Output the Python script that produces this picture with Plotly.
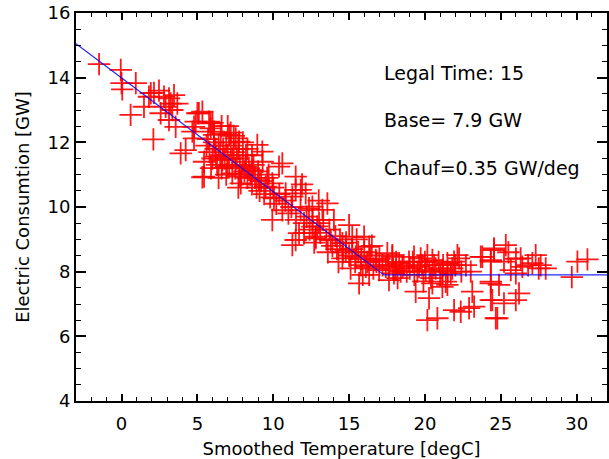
import plotly.graph_objects as go

# Observations: smoothed temperature (degC) and electric consumption (GW)
temp = [
    -1.48, -0.05, 0.0, 0.05, 0.94, 0.6, 2.1, 1.93, 1.81, 2.14, 2.47, 2.8, 3.13, 3.46, 3.24, 2.91, 1.48, 2.58,
    3.13, 3.57, 3.35, 3.68, 3.9, 4.23, 5.44, 4.89, 5.1, 4.67, 4.78, 5.77, 5.88, 6.1,
    5.0, 5.33, 4.78, 5.88, 6.1, 6.54, 7.09, 7.53, 7.75, 8.95, 9.28, 5.44, 5.33, 6.21, 6.65, 6.97, 7.3, 7.75,
    7.86, 8.19, 8.62, 9.06, 9.5, 9.94, 10.38, 10.6, 10.05, 9.94, 10.82, 11.26, 11.48, 11.81, 12.36, 12.03,
    11.7, 11.26, 12.58, 12.8,
    11.48, 12.14, 12.58, 13.24, 13.57, 13.02, 12.03, 11.48, 12.8, 13.79, 15.0, 14.56, 14.78, 15.21, 15.99,
    16.32, 14.56, 15.44, 15.77, 16.1, 16.76, 17.52, 17.85, 16.98, 16.32, 15.66, 17.42, 18.08, 18.51, 17.63,
    17.85, 18.3, 17.96, 18.95, 19.28, 19.72, 20.16, 20.49, 19.61, 20.05, 20.71, 21.15, 21.48, 21.92, 22.25,
    22.14, 21.7, 21.37, 20.49, 19.39, 20.27, 21.15, 21.48, 23.12, 23.02, 23.68, 24.34, 24.55, 24.34, 24.44,
    22.36, 21.92, 22.91, 23.24, 20.16, 20.82, 24.67,
    25.33, 24.56, 23.78, 24.34, 25.21, 26.31, 27.3, 27.08, 27.63, 27.96, 26.42, 25.66, 25.99, 30.05, 30.71,
    29.68, 24.34, 24.88, 26.2, 25.99, 24.34, 25.21, 24.77,
    5.6, 5.8, 6.0, 6.2, 6.3, 6.4, 6.5, 6.6, 6.7, 6.8, 6.9, 7.0, 7.1, 7.2, 7.3, 7.4, 7.5, 7.6, 7.7, 7.8,
    7.9, 8.0, 8.1, 8.2, 8.3, 8.4, 8.5, 8.6, 8.7, 8.8, 8.9, 9.0, 9.1, 9.2, 9.4, 9.6, 9.8, 10.0, 10.2, 10.4,
    10.6, 10.8, 11.0, 11.2, 5.7, 6.1, 6.9, 7.7, 5.9, 6.4, 7.2, 8.3, 9.3, 9.7, 6.0, 6.6, 7.0, 7.4, 8.0, 8.6,
    11.5, 11.8, 12.2, 12.4, 12.6, 12.9, 13.1, 13.3, 13.5, 13.7, 13.9, 14.1, 14.2, 14.4, 14.6, 14.8, 15.0,
    15.2, 15.4, 15.6, 15.8, 16.0, 16.2, 16.4, 16.6, 16.8, 17.0, 17.2, 14.3, 13.6, 12.7, 15.1, 15.9, 14.0,
    13.0, 11.9, 16.5, 15.5,
    17.6, 17.9, 18.1, 18.4, 18.6, 18.8, 19.0, 19.2, 19.5, 19.8, 20.0, 20.3, 20.6, 20.9, 21.2, 21.5, 21.8,
    22.0, 22.4, 22.7, 19.3, 20.4, 18.2, 19.9, 21.0, 26.8, 27.5, 26.0, 25.5,
]
consumption = [
    14.42, 14.24, 13.83, 13.64, 13.83, 12.85, 12.09, 13.52, 13.41, 13.53, 13.6, 13.41, 13.36, 13.46, 13.2, 13.1, 13.1, 12.9,
    12.69, 12.48, 13.0, 13.2, 11.66, 11.76, 10.94, 12.64, 12.9, 12.33, 12.12, 12.64, 12.43, 12.23,
    12.9, 12.95, 12.48, 12.59, 12.33, 12.28, 12.23, 12.12, 12.02, 11.92, 11.71, 11.4, 10.92, 11.56, 11.45, 11.25, 11.04, 10.94,
    10.73, 11.25, 11.14, 10.83, 10.63, 10.73, 11.25, 11.35, 10.27, 9.6, 10.42, 10.32, 10.94, 10.53, 9.96, 9.5,
    9.19, 8.82, 9.39, 9.08,
    10.53, 10.42, 10.01, 9.91, 10.11, 9.5, 9.19, 8.98, 9.03, 8.98, 9.44, 8.88, 8.67, 9.08, 9.08,
    8.77, 8.41, 8.46, 8.2, 8.15, 8.36, 8.57, 8.46, 8.05, 7.9, 7.64, 8.15, 8.05, 8.15, 7.74,
    8.51, 8.26, 7.95, 8.31, 8.46, 8.41, 8.51, 8.36, 8.15, 8.05, 8.1, 8.05, 8.26, 8.31, 8.41,
    8.51, 7.95, 7.69, 7.64, 7.38, 7.18, 7.53, 7.59, 7.38, 8.0, 8.46, 8.31, 8.67, 7.69, 7.12,
    6.76, 6.81, 6.87, 6.92, 6.5, 6.56, 6.56,
    8.82, 8.72, 8.46, 8.36, 8.31, 8.41, 8.51, 8.26, 8.2, 8.1, 8.15, 8.05, 7.95, 8.31, 8.38,
    7.83, 7.64, 7.59, 7.33, 7.12, 7.12, 7.02, 6.56,
    11.9, 11.7, 11.5, 11.8, 11.3, 11.9, 11.6, 11.2, 11.8, 11.5, 12.0, 11.6, 11.3, 11.9, 11.5, 11.7, 11.2, 11.5, 11.8, 11.3,
    11.0, 11.4, 11.1, 11.6, 10.9, 11.2, 11.0, 10.7, 11.3, 10.9, 10.6, 11.1, 10.5, 10.8, 10.4, 10.9, 10.3, 10.6, 10.1, 10.4,
    9.9, 10.2, 9.8, 10.0, 12.1, 12.0, 11.0, 10.6, 11.2, 10.9, 12.3, 11.8, 11.4, 11.0, 12.6, 12.5, 12.5, 12.2, 12.0, 11.6,
    9.6, 9.9, 9.7, 9.3, 9.6, 9.4, 9.2, 9.6, 9.0, 9.3, 8.8, 9.1, 8.7, 9.0, 8.6, 8.9, 8.5,
    8.7, 8.3, 8.6, 8.4, 8.6, 8.3, 8.5, 8.1, 8.3, 8.4, 8.2, 8.3, 8.6, 8.9, 8.1, 7.9, 9.6,
    10.2, 10.7, 8.8, 9.0,
    8.2, 8.1, 8.3, 8.0, 8.2, 8.0, 8.1, 8.3, 8.0, 8.2, 8.3, 8.0, 8.2, 8.3, 8.2, 8.0, 8.1,
    8.2, 8.0, 8.2, 7.9, 7.8, 7.8, 7.7, 7.9, 8.2, 8.1, 8.4, 8.6,
]

# Fitted piecewise model: heating slope then constant base
fit_temp = [-3.0, 17.3, 32.0]
fit_cons = [15.05, 7.9, 7.9]

x_ticks = [0, 5, 10, 15, 20, 25, 30]
y_ticks = [4, 6, 8, 10, 12, 14, 16]

annot_texts = ["Legal Time: 15", "Base= 7.9 GW", "Chauf=0.35 GW/deg"]

FONT = "DejaVu Sans"

fig = go.Figure()
fig.add_trace(go.Scatter(
    x=temp, y=consumption, mode="markers",
    marker=dict(symbol="cross-thin", size=16, color="red",
                line=dict(width=1.8, color="rgba(255,0,0,0.9)")),
    showlegend=False, hoverinfo="skip"))
fig.add_trace(go.Scatter(
    x=fit_temp, y=fit_cons, mode="lines",
    line=dict(color="rgba(0,0,255,0.85)", width=1.2),
    showlegend=False, hoverinfo="skip"))

ann_y = [0.845, 0.724, 0.60]
for t, yy in zip(annot_texts, ann_y):
    fig.add_annotation(text=t, xref="paper", yref="paper", x=0.576, y=yy,
                       xanchor="left", yanchor="middle", showarrow=False,
                       font=dict(family=FONT, size=19, color="black"))

axis_common = dict(showgrid=False, zeroline=False, showline=True, linecolor="black",
                   linewidth=2, mirror="allticks", ticks="inside", tickcolor="black",
                   tickwidth=1.5, automargin=False,
                   tickfont=dict(family=FONT, size=18, color="black"))

fig.update_xaxes(range=[-3, 32], tickvals=x_ticks, ticklen=7, ticklabelstandoff=5,
                 minor=dict(dtick=1, ticks="inside", ticklen=4, tickcolor="black", tickwidth=1.2),
                 title=dict(text="Smoothed Temperature [degC]", standoff=13,
                            font=dict(family=FONT, size=18, color="black")),
                 **axis_common)
fig.update_yaxes(range=[4, 16], tickvals=y_ticks, ticklen=10,
                 minor=dict(dtick=0.5, ticks="inside", ticklen=5, tickcolor="black", tickwidth=1.2),
                 title=dict(text="Electric Consumtion [GW]", standoff=13,
                            font=dict(family=FONT, size=18, color="black")),
                 **axis_common)

fig.update_layout(width=609, height=459, margin=dict(l=76, r=2, t=13, b=58),
                  plot_bgcolor="white", paper_bgcolor="white")

fig.write_html("out.html", config={"displayModeBar": False},
               post_script="document.body.style.margin='0';")
